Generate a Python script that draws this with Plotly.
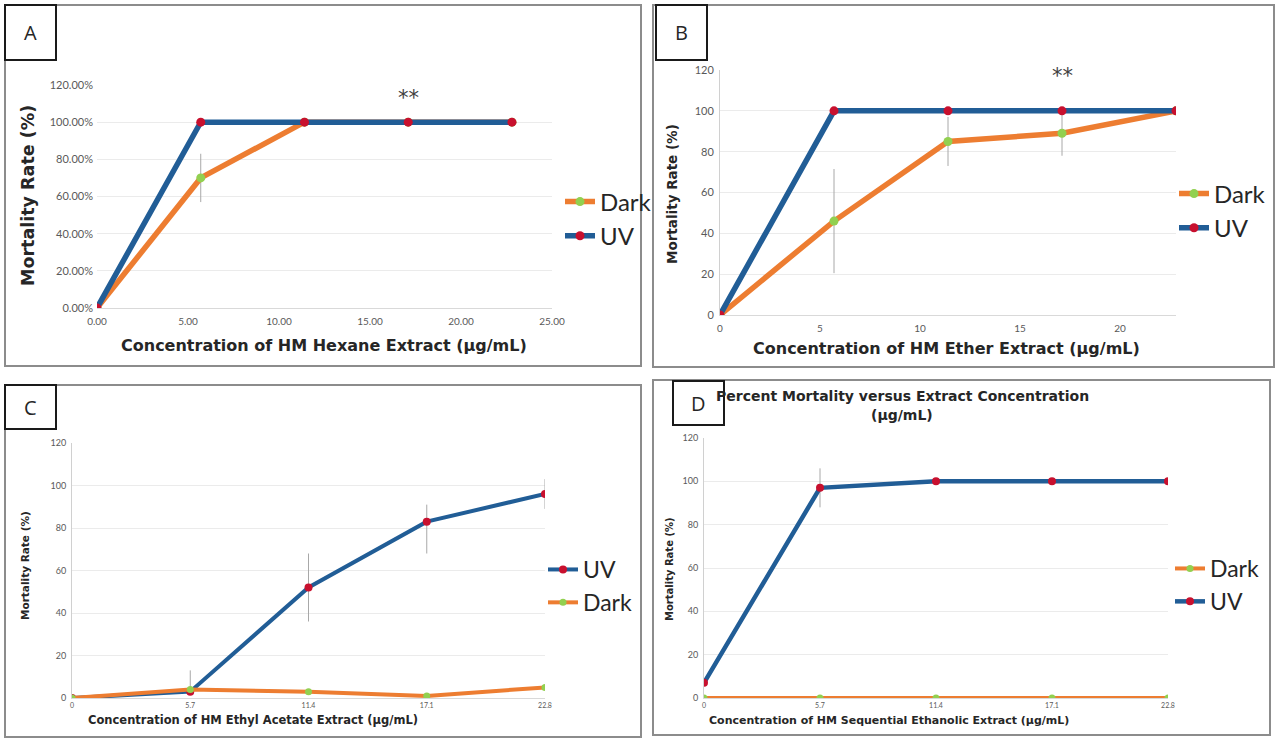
import plotly.graph_objects as go

W, H = 1276, 740

# ---------------- data ----------------
conc = [0, 5.7, 11.4, 17.1, 22.8]
conc_labels = ["0", "5.7", "11.4", "17.1", "22.8"]

# Panel A (hexane) – fractions, shown as %
a_dark = [0.0, 0.70, 1.0, 1.0, 1.0]
a_dark_err = [0, 0.13, 0, 0, 0]
a_uv = [0.0, 1.0, 1.0, 1.0, 1.0]

# Panel B (ether)
b_dark = [0, 46, 85, 89, 100]
b_dark_err = [0, 25.5, 12, 11, 0]
b_uv = [0, 100, 100, 100, 100]

# Panel C (ethyl acetate)
c_uv = [0, 3, 52, 83, 96]
c_uv_err_plus = [0, 10, 16, 8, 7]
c_uv_err_minus = [0, 0, 16, 15, 7]
c_dark = [0, 4, 3, 1, 5]

# Panel D (sequential ethanolic)
d_dark = [0, 0, 0, 0, 0]
d_uv = [7, 97, 100, 100, 100]
d_uv_err = [0, 9, 0, 0, 0]

BLUE = "#215d96"
ORANGE = "#ed7d31"
RED = "#c8102e"
GREEN = "#92d050"
ERR = "#a8a8a8"
TICK = "#595959"
TXT = "#262626"
FONT = "Lato"
TFONT = "DejaVu Sans"


def px(x):
    return x / W


def py(y):
    return 1 - y / H


fig = go.Figure()


def line_trace(x, y, name, color, mcolor, xa, ya, legend, lw, ms, err=None, errm=None):
    kw = {}
    if err is not None:
        e = dict(type="data", array=err, color=ERR, thickness=1, width=0, visible=True)
        if errm is not None:
            e["symmetric"] = False
            e["arrayminus"] = errm
        kw["error_y"] = e
    fig.add_trace(go.Scatter(
        x=x, y=y, name=name, mode="lines+markers",
        line=dict(color=color, width=lw),
        marker=dict(color=mcolor, size=ms),
        xaxis=xa, yaxis=ya, legend=legend, **kw))


# A
line_trace(conc, a_dark, "Dark", ORANGE, GREEN, "x", "y", "legend", 5.5, 9, a_dark_err)
line_trace(conc, a_uv, "UV", BLUE, RED, "x", "y", "legend", 5.5, 9)
# B
line_trace(conc, b_dark, "Dark", ORANGE, GREEN, "x2", "y2", "legend2", 5.5, 9, b_dark_err)
line_trace(conc, b_uv, "UV", BLUE, RED, "x2", "y2", "legend2", 5.5, 9)
# C
line_trace(conc_labels, c_uv, "UV", BLUE, RED, "x3", "y3", "legend3", 4, 8, c_uv_err_plus, c_uv_err_minus)
line_trace(conc_labels, c_dark, "Dark", ORANGE, GREEN, "x3", "y3", "legend3", 4, 7)
# D
line_trace(conc_labels, d_dark, "Dark", ORANGE, GREEN, "x4", "y4", "legend4", 4, 7)
line_trace(conc_labels, d_uv, "UV", BLUE, RED, "x4", "y4", "legend4", 4.5, 8, d_uv_err)

grid = "#ebebeb"


def yax(top, bottom, tickfont, anchor, showline=False, fmt=None, rng=(0, 120), dtick=20):
    d = dict(domain=[py(bottom), py(top)], range=list(rng), dtick=dtick, anchor=anchor,
             showgrid=True, gridcolor=grid, gridwidth=1, zeroline=False,
             tickfont=dict(size=tickfont, color=TICK, family=FONT),
             ticks="", showline=showline, linecolor="#d0d0d0", linewidth=1,
             ticklabelstandoff=3, automargin=False, fixedrange=True)
    if fmt:
        d["tickformat"] = fmt
    return d


def xax(left, right, anchor, tickfont, standoff=3, **extra):
    d = dict(domain=[px(left), px(right)], anchor=anchor, showgrid=False,
             zeroline=False, showline=True, linecolor="#d9d9d9", linewidth=1,
             ticks="", tickfont=dict(size=tickfont, color=TICK, family=FONT),
             ticklabelstandoff=standoff, automargin=False, fixedrange=True)
    d.update(extra)
    return d


fig.update_layout(
    width=W, height=H, autosize=False,
    margin=dict(l=0, r=0, t=0, b=0, pad=0, autoexpand=False),
    paper_bgcolor="white", plot_bgcolor="white",
    font=dict(family=FONT, color=TXT),
    xaxis=xax(97, 552, "y", 10, 4, range=[0, 25], dtick=5, tickformat=".2f"),
    yaxis=yax(85, 308, 11, "x", fmt=".2%", rng=(0, 1.2), dtick=0.2),
    xaxis2=xax(720, 1176, "y2", 10, 4, range=[0, 22.8], dtick=5),
    yaxis2=yax(70, 315, 11, "x2", showline=True),
    xaxis3=xax(72, 545, "y3", 7, 1, type="category", range=[0, 4]),
    yaxis3=yax(443, 698, 9, "x3", showline=True),
    xaxis4=xax(704, 1168, "y4", 7, 1, type="category", range=[0, 4]),
    yaxis4=yax(438, 698, 9, "x4", showline=True),
)


def leg(x, y, size):
    return dict(x=px(x), y=py(y), xanchor="left", yanchor="middle",
                bgcolor="rgba(0,0,0,0)", font=dict(size=size, color=TXT, family=FONT),
                tracegroupgap=0, itemwidth=30)


fig.update_layout(
    legend=leg(560, 219, 24),
    legend2=leg(1174, 211, 24),
    legend3=leg(543, 586, 23),
    legend4=leg(1170, 585, 23),
)

shapes = []
# panel borders
for (x0, y0, x1, y1) in [(5, 5, 641, 366), (653, 5, 1274, 367), (5, 385, 641, 737), (653, 380, 1270, 735)]:
    shapes.append(dict(type="rect", xref="paper", yref="paper", x0=px(x0), x1=px(x1),
                       y0=py(y1), y1=py(y0), line=dict(color="#8c8c8c", width=2)))
# label boxes
boxes = [(5, 5, 56, 60, "A"), (656, 5, 707, 60, "B"), (5, 385, 56, 429, "C"), (673, 381, 724, 425, "D")]
for (x0, y0, x1, y1, _) in boxes:
    shapes.append(dict(type="rect", xref="paper", yref="paper", x0=px(x0), x1=px(x1),
                       y0=py(y1), y1=py(y0), line=dict(color="#1a1a1a", width=2),
                       fillcolor="white"))
fig.update_layout(shapes=shapes)

ann = []
for (x0, y0, x1, y1, t) in boxes:
    ann.append(dict(text=t, x=px((x0 + x1) / 2), y=py((y0 + y1) / 2), xref="paper", yref="paper",
                    xanchor="center", yanchor="middle",
                    showarrow=False, font=dict(size=20, color=TXT, family="Open Sans")))


def txt(t, x, y, size, angle=0, bold=True, family=TFONT):
    ann.append(dict(text=f"<b>{t}</b>" if bold else t, x=px(x), y=py(y), xref="paper", yref="paper",
                    showarrow=False, textangle=angle, xanchor="center", yanchor="middle",
                    font=dict(size=size, color=TXT, family=family)))


# axis titles
txt("Concentration of HM Hexane Extract (µg/mL)", 324, 345, 16)
txt("Mortality Rate (%)", 28, 196, 17.5, -90)
txt("Concentration of HM Ether Extract (µg/mL)", 946, 348, 16)
txt("Mortality Rate (%)", 672, 194, 13.5, -90)
txt("Concentration of HM Ethyl Acetate Extract (µg/mL)", 253, 720, 11.5)
txt("Mortality Rate (%)", 25, 566, 10.5, -90)
txt("Concentration of HM Sequential Ethanolic Extract (µg/mL)", 889, 720, 11)
txt("Mortality Rate (%)", 669, 569, 10, -90)
# title D
txt("Percent Mortality versus Extract Concentration", 902, 396, 14)
txt("(µg/mL)", 902, 415, 14)

# significance markers
for xa, ya, xv, yv in [("x", "y", 17.1, 1.13), ("x2", "y2", 17.1, 117), ("x3", "y3", "17.1", 100)]:
    ann.append(dict(text="**", x=xv, y=yv, xref=xa, yref=ya, showarrow=False,
                    xanchor="center", yanchor="middle",
                    font=dict(size=21, color="#404040", family="DejaVu Sans")))

fig.update_layout(annotations=ann)

fig.write_html("out.html", config={"displayModeBar": False},
               post_script="document.body.style.margin='0px';")
